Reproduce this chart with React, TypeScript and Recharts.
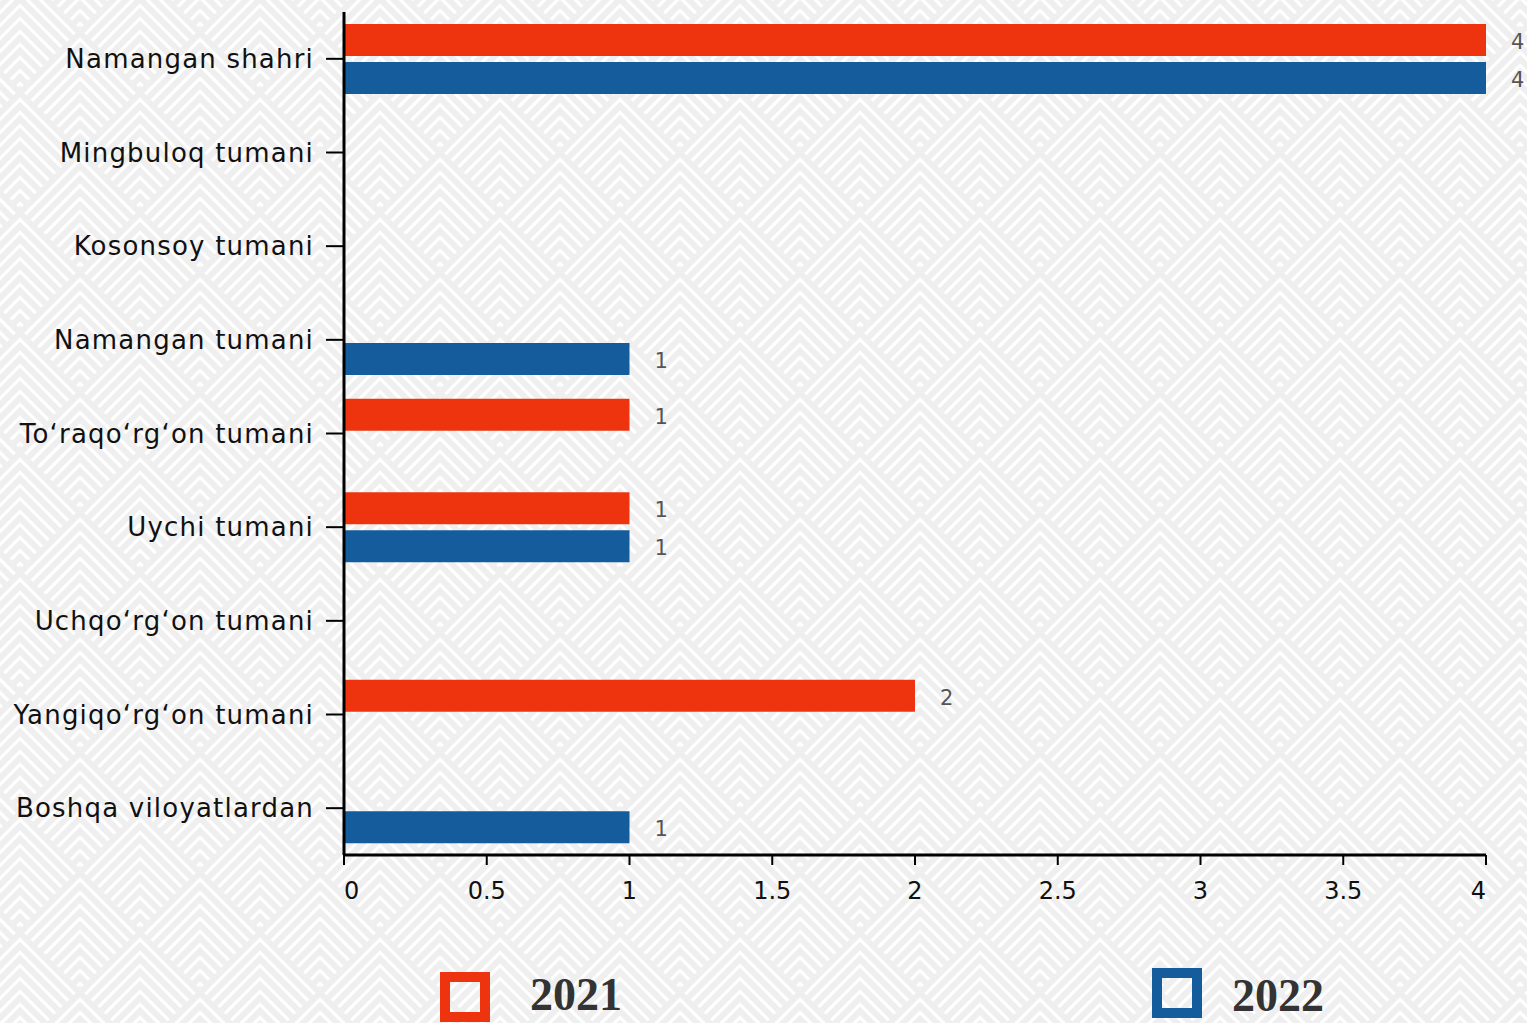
import { BarChart, Bar, XAxis, YAxis, LabelList } from 'recharts'

const CATEGORIES = [
  'Namangan shahri',
  'Mingbuloq tumani',
  'Kosonsoy tumani',
  'Namangan tumani',
  'To‘raqo‘rg‘on tumani',
  'Uychi tumani',
  'Uchqo‘rg‘on tumani',
  'Yangiqo‘rg‘on tumani',
  'Boshqa viloyatlardan',
]
const VALUES_2021 = [4, 0, 0, 0, 1, 1, 0, 2, 0]
const VALUES_2022 = [4, 0, 0, 1, 0, 1, 0, 0, 1]
const X_TICKS = [0, 0.5, 1, 1.5, 2, 2.5, 3, 3.5, 4]

const SERIES = [
  { key: 'y2021', label: '2021', color: '#EE340F' },
  { key: 'y2022', label: '2022', color: '#145C9B' },
]

const data = CATEGORIES.map((name, i) => ({
  name,
  y2021: VALUES_2021[i],
  y2022: VALUES_2022[i],
}))

const FONT = '"DejaVu Sans", sans-serif'

// legend placement (square box + label)
const LEGEND_POS = [
  { box: [440, 972], text: [530, 978] },
  { box: [1152, 968], text: [1232, 979] },
]

function Background() {
  const chevrons = (cx: number, cy: number) => {
    const lines = []
    for (let ay = cy - 60; ay < cy + 60; ay += 13) {
      const t = (cy + 60 - ay) / 2
      lines.push(`M${cx - t},${ay + t} L${cx},${ay} L${cx + t},${ay + t}`)
    }
    return lines.join(' ')
  }
  const d = [chevrons(60, 60), chevrons(0, 0), chevrons(120, 0), chevrons(0, 120), chevrons(120, 120)].join(' ')
  return (
    <svg width={1527} height={1023} style={{ position: 'absolute', left: 0, top: 0 }}>
      <defs>
        <pattern id="chev" width={120} height={120} patternUnits="userSpaceOnUse" patternTransform="translate(20,33)">
          <rect width={120} height={120} fill="#ffffff" />
          <path d={d} fill="none" stroke="#efefef" strokeWidth={6} />
        </pattern>
      </defs>
      <rect width={1527} height={1023} fill="url(#chev)" />
    </svg>
  )
}

function XTick(props: any) {
  const { x, y, payload, index } = props
  const last = index === X_TICKS.length - 1
  const anchor = index === 0 ? 'start' : last ? 'end' : 'middle'
  return (
    <text x={x} y={y} dy={32} textAnchor={anchor} fill="#111" fontSize={24} fontFamily={FONT}>
      {payload.value}
    </text>
  )
}

function ValueLabel(props: any) {
  const { x, y, width, height, value } = props
  if (!value) return null
  return (
    <text x={x + width + 25} y={y + height / 2 + 9} fill="#555" fontSize={21} fontFamily={FONT}>
      {value}
    </text>
  )
}

export default function App() {
  return (
    <div style={{ position: 'absolute', left: 0, top: 0, width: 1527, height: 1023, overflow: 'hidden' }}>
      <Background />
      <div style={{ position: 'absolute', left: 0, top: 0 }}>
        <BarChart
          width={1527}
          height={1023}
          data={data}
          layout="vertical"
          margin={{ top: 12, right: 41, bottom: 128, left: 0 }}
          barSize={32}
          barGap={6}
        >
          <XAxis
            type="number"
            domain={[0, 4]}
            ticks={X_TICKS}
            height={40}
            axisLine={{ stroke: '#000', strokeWidth: 3 }}
            tickLine={{ stroke: '#000', strokeWidth: 2 }}
            tickSize={10}
            tick={<XTick />}
            interval={0}
          />
          <YAxis
            type="category"
            dataKey="name"
            width={344}
            axisLine={{ stroke: '#000', strokeWidth: 3 }}
            tickLine={{ stroke: '#000', strokeWidth: 2 }}
            tickSize={18}
            tickMargin={12}
            tick={{ fill: '#111', fontSize: 26, fontFamily: FONT, letterSpacing: 1.2 }}
            interval={0}
          />
          {SERIES.map(s => (
            <Bar key={s.key} dataKey={s.key} name={s.label} fill={s.color} isAnimationActive={false}>
              <LabelList dataKey={s.key} content={<ValueLabel />} />
            </Bar>
          ))}
        </BarChart>
      </div>
      {SERIES.map((s, i) => (
        <div key={s.key}>
          <div
            style={{
              position: 'absolute',
              left: LEGEND_POS[i].box[0],
              top: LEGEND_POS[i].box[1],
              width: 30,
              height: 30,
              border: `10px solid ${s.color}`,
            }}
          />
          <span
            style={{
              position: 'absolute',
              left: LEGEND_POS[i].text[0],
              top: LEGEND_POS[i].text[1],
              fontFamily: '"Liberation Serif", serif',
              fontWeight: 'bold',
              fontSize: 46,
              lineHeight: '34px',
              color: '#333',
              whiteSpace: 'nowrap',
            }}
          >
            {s.label}
          </span>
        </div>
      ))}
    </div>
  )
}
